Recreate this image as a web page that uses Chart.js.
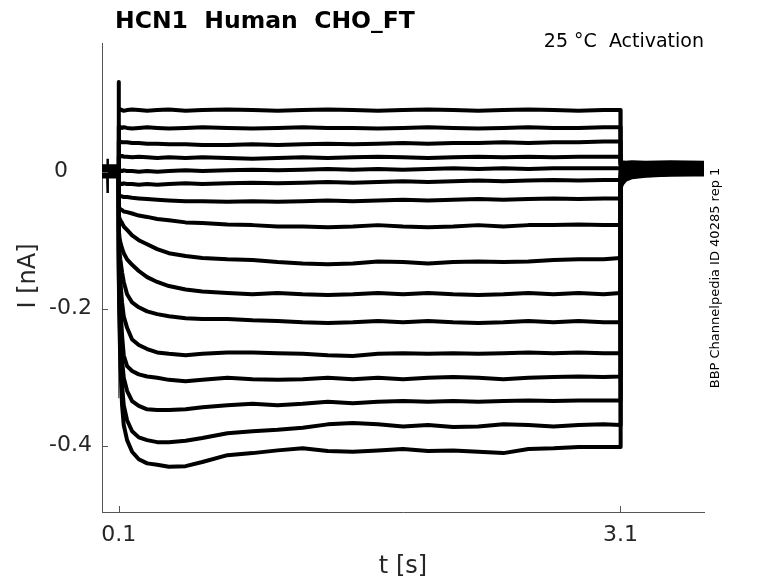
<!DOCTYPE html>
<html>
<head>
<meta charset="utf-8">
<script src="https://cdn.jsdelivr.net/npm/chart.js@4.4.1/dist/chart.umd.min.js"></script>
<style>
  html, body { margin: 0; padding: 0; background: #fff; }
  #wrap { width: 778px; height: 583px; position: relative; }
  canvas { display: block; }
</style>
</head>
<body>
<div id="wrap"><canvas id="c" width="778" height="583"></canvas></div>
<script>
// ---------- data (nA vs s) ----------
const titleText = 'HCN1  Human  CHO_FT';
const subtitleText = '25 °C  Activation';
const sideText = 'BBP Channelpedia ID 40285 rep 1';
const xTitle = 't [s]';
const yTitle = 'I [nA]';

const xTickValues = [0.1, 3.1];
const xTickLabels = ['0.1', '3.1'];
const yTickValues = [0, -0.2, -0.4];
const yTickLabels = ['0', '-0.2', '-0.4'];

// holding segment (before the step)
const preT = [0, 0.1];
const holdLevel = [0.008, 0.007, 0.006, 0.005, 0.004, 0.003, 0.002, 0.001,
                   0.000, -0.001, -0.002, -0.003, -0.004, -0.005, -0.006, -0.007];

// short artifact in the holding segment
const artifactT = [0.031, 0.033, 0.034, 0.035, 0.037];
const artifactV = [0.000, 0.019, -0.031, 0.002, 0.000];

// capacitive transient at step onset (deepest step)
const transientT = [0.0995, 0.1, 0.101];
const transientV = [-0.007, -0.331, -0.158];

// test step samples
const stepT = [0.100,0.101,0.105,0.110,0.120,0.130,0.150,0.180,0.220,0.270,
               0.330,0.400,0.500,0.600,0.750,0.900,1.050,1.200,1.350,1.500,
               1.650,1.800,1.950,2.100,2.250,2.400,2.550,2.700,2.850,3.000,3.100];

const trace01 = [0.131,0.089,0.090,0.091,0.090,0.089,0.090,0.091,0.090,0.089,0.090,0.091,0.089,0.090,0.091,0.090,0.089,0.090,0.091,0.090,0.089,0.090,0.091,0.090,0.089,0.090,0.091,0.090,0.089,0.090,0.090];
const trace02 = [0.066,0.066,0.066,0.065,0.064,0.065,0.064,0.063,0.064,0.065,0.064,0.063,0.064,0.065,0.064,0.063,0.064,0.065,0.064,0.064,0.063,0.064,0.065,0.064,0.063,0.064,0.065,0.064,0.064,0.065,0.065];
const trace03 = [0.044,0.044,0.044,0.044,0.043,0.043,0.043,0.042,0.042,0.041,0.041,0.040,0.040,0.039,0.039,0.040,0.039,0.040,0.041,0.040,0.041,0.042,0.041,0.042,0.042,0.043,0.042,0.043,0.043,0.044,0.044];
const trace04 = [0.023,0.023,0.023,0.022,0.023,0.022,0.022,0.021,0.022,0.021,0.020,0.021,0.020,0.021,0.020,0.019,0.020,0.021,0.020,0.021,0.022,0.021,0.020,0.021,0.022,0.021,0.022,0.021,0.022,0.022,0.022];
const trace05 = [0.002,0.002,0.002,0.002,0.001,0.002,0.001,0.001,0.000,0.001,0.000,0.001,0.002,0.001,0.002,0.003,0.002,0.003,0.004,0.003,0.004,0.003,0.004,0.005,0.004,0.005,0.004,0.005,0.005,0.005,0.005];
const trace06 = [-0.016,-0.016,-0.017,-0.017,-0.018,-0.017,-0.018,-0.018,-0.019,-0.018,-0.019,-0.018,-0.017,-0.018,-0.017,-0.016,-0.017,-0.016,-0.015,-0.016,-0.015,-0.014,-0.015,-0.014,-0.013,-0.014,-0.013,-0.012,-0.013,-0.012,-0.012];
const trace07 = [-0.035,-0.035,-0.035,-0.036,-0.036,-0.037,-0.037,-0.038,-0.039,-0.040,-0.041,-0.042,-0.043,-0.043,-0.044,-0.043,-0.044,-0.043,-0.042,-0.043,-0.042,-0.041,-0.042,-0.041,-0.040,-0.041,-0.040,-0.039,-0.040,-0.039,-0.039];
const trace08 = [-0.052,-0.052,-0.053,-0.055,-0.056,-0.058,-0.059,-0.061,-0.064,-0.066,-0.069,-0.071,-0.074,-0.075,-0.077,-0.078,-0.080,-0.080,-0.081,-0.080,-0.078,-0.080,-0.081,-0.080,-0.078,-0.080,-0.078,-0.078,-0.077,-0.078,-0.078];
const trace09 = [-0.065,-0.065,-0.068,-0.071,-0.075,-0.080,-0.085,-0.093,-0.100,-0.106,-0.113,-0.119,-0.123,-0.126,-0.128,-0.129,-0.132,-0.134,-0.135,-0.134,-0.131,-0.132,-0.134,-0.132,-0.131,-0.132,-0.131,-0.129,-0.128,-0.128,-0.126];
const trace10 = [-0.085,-0.085,-0.097,-0.103,-0.112,-0.119,-0.128,-0.136,-0.145,-0.154,-0.161,-0.167,-0.172,-0.175,-0.177,-0.179,-0.177,-0.179,-0.180,-0.179,-0.177,-0.179,-0.177,-0.179,-0.180,-0.179,-0.177,-0.179,-0.177,-0.179,-0.177];
const trace11 = [-0.100,-0.100,-0.118,-0.129,-0.147,-0.161,-0.179,-0.191,-0.198,-0.204,-0.208,-0.211,-0.214,-0.215,-0.215,-0.217,-0.218,-0.220,-0.221,-0.220,-0.218,-0.220,-0.218,-0.220,-0.221,-0.220,-0.218,-0.220,-0.218,-0.220,-0.220];
const trace12 = [-0.115,-0.115,-0.141,-0.161,-0.191,-0.211,-0.228,-0.245,-0.253,-0.259,-0.264,-0.266,-0.268,-0.266,-0.264,-0.264,-0.265,-0.266,-0.268,-0.269,-0.266,-0.265,-0.266,-0.265,-0.266,-0.265,-0.264,-0.265,-0.264,-0.265,-0.265];
const trace13 = [-0.126,-0.126,-0.166,-0.195,-0.239,-0.268,-0.284,-0.291,-0.296,-0.299,-0.301,-0.304,-0.306,-0.304,-0.301,-0.303,-0.304,-0.303,-0.301,-0.303,-0.301,-0.303,-0.301,-0.300,-0.301,-0.303,-0.301,-0.300,-0.299,-0.300,-0.299];
const trace14 = [-0.136,-0.136,-0.188,-0.224,-0.275,-0.301,-0.320,-0.335,-0.342,-0.347,-0.348,-0.348,-0.347,-0.344,-0.341,-0.339,-0.341,-0.339,-0.336,-0.338,-0.336,-0.335,-0.336,-0.335,-0.336,-0.335,-0.334,-0.335,-0.334,-0.334,-0.334];
const trace15 = [-0.147,-0.147,-0.209,-0.253,-0.312,-0.341,-0.363,-0.379,-0.388,-0.392,-0.395,-0.395,-0.393,-0.389,-0.382,-0.379,-0.377,-0.374,-0.369,-0.367,-0.369,-0.372,-0.370,-0.373,-0.372,-0.369,-0.370,-0.372,-0.370,-0.369,-0.370];
const trace16 = [-0.158,-0.158,-0.231,-0.282,-0.341,-0.370,-0.392,-0.409,-0.420,-0.426,-0.428,-0.431,-0.430,-0.424,-0.414,-0.411,-0.407,-0.404,-0.408,-0.409,-0.407,-0.405,-0.408,-0.407,-0.409,-0.411,-0.405,-0.404,-0.402,-0.402,-0.402];

// tail segment (after the step)
const postT = [3.100, 3.103, 3.110, 3.130, 3.170, 3.250, 3.400, 3.600];
const tail01 = [0.013,0.013,0.014,0.013,0.014,0.013,0.014,0.013];
const tail02 = [0.011,0.012,0.011,0.012,0.011,0.012,0.011,0.012];
const tail03 = [0.010,0.010,0.011,0.010,0.011,0.010,0.011,0.010];
const tail04 = [0.008,0.009,0.008,0.009,0.008,0.009,0.008,0.009];
const tail05 = [0.006,0.006,0.007,0.006,0.007,0.006,0.007,0.006];
const tail06 = [0.004,0.005,0.004,0.005,0.004,0.005,0.004,0.005];
const tail07 = [0.002,0.003,0.003,0.003,0.004,0.003,0.004,0.003];
const tail08 = [-0.004,-0.002,0.000,0.001,0.002,0.002,0.002,0.002];
const tail09 = [-0.008,-0.006,-0.003,-0.001,0.000,0.001,0.001,0.001];
const tail10 = [-0.012,-0.009,-0.006,-0.003,-0.001,0.000,0.000,0.000];
const tail11 = [-0.016,-0.012,-0.008,-0.004,-0.002,-0.001,-0.001,-0.001];
const tail12 = [-0.019,-0.015,-0.010,-0.006,-0.004,-0.002,-0.002,-0.002];
const tail13 = [-0.022,-0.017,-0.012,-0.008,-0.005,-0.003,-0.003,-0.002];
const tail14 = [-0.024,-0.019,-0.014,-0.009,-0.006,-0.004,-0.003,-0.003];
const tail15 = [-0.026,-0.021,-0.015,-0.010,-0.007,-0.005,-0.004,-0.003];
const tail16 = [-0.029,-0.024,-0.018,-0.012,-0.008,-0.006,-0.004,-0.004];

const steps = [trace01,trace02,trace03,trace04,trace05,trace06,trace07,trace08,
               trace09,trace10,trace11,trace12,trace13,trace14,trace15,trace16];
const tails = [tail01,tail02,tail03,tail04,tail05,tail06,tail07,tail08,
               tail09,tail10,tail11,tail12,tail13,tail14,tail15,tail16];

// ---------- build datasets ----------
const datasets = steps.map((s, i) => {
  const pts = [];
  preT.forEach(t => pts.push({x: t, y: holdLevel[i]}));
  stepT.forEach((t, j) => pts.push({x: t, y: s[j]}));
  postT.forEach((t, j) => pts.push({x: t, y: tails[i][j]}));
  return {
    data: pts, showLine: true, borderColor: '#000', borderWidth: 4,
    pointRadius: 0, tension: 0, fill: false, borderJoinStyle: 'round'
  };
});
datasets.push({
  data: artifactT.map((t, j) => ({x: t, y: artifactV[j]})),
  showLine: true, borderColor: '#000', borderWidth: 2.5, pointRadius: 0, tension: 0
});
datasets.push({
  data: transientT.map((t, j) => ({x: t, y: transientV[j]})),
  showLine: true, borderColor: '#444', borderWidth: 1.2, pointRadius: 0, tension: 0
});

const FONT = '"DejaVu Sans", "Liberation Sans", sans-serif';
const TXT = '#262626';

const decor = {
  id: 'decor',
  afterDraw(chart) {
    const ctx = chart.ctx;
    const xs = chart.scales.x, ys = chart.scales.y;
    const area = chart.chartArea;
    ctx.save();
    // inward tick marks
    ctx.strokeStyle = '#555';
    ctx.lineWidth = 1;
    xs.ticks.forEach(t => {
      const px = Math.round(xs.getPixelForValue(t.value)) + 0.5;
      ctx.beginPath(); ctx.moveTo(px, area.bottom); ctx.lineTo(px, area.bottom - 6); ctx.stroke();
    });
    ys.ticks.forEach(t => {
      const py = Math.round(ys.getPixelForValue(t.value)) + 0.5;
      ctx.beginPath(); ctx.moveTo(area.left, py); ctx.lineTo(area.left + 6, py); ctx.stroke();
    });
    // tick labels
    ctx.fillStyle = TXT;
    ctx.font = '22px ' + FONT;
    ctx.textBaseline = 'middle';
    ctx.textAlign = 'center';
    xs.ticks.forEach(t => {
      const k = xTickValues.indexOf(t.value);
      ctx.fillText(xTickLabels[k], xs.getPixelForValue(t.value), 535);
    });
    ctx.textAlign = 'right';
    ys.ticks.forEach(t => {
      const k = yTickValues.indexOf(t.value);
      const lbl = yTickLabels[k];
      const edge = lbl.length === 1 ? 68 : 92;
      ctx.fillText(lbl, edge, ys.getPixelForValue(t.value));
    });
    // axis titles
    ctx.font = '24px ' + FONT;
    ctx.textAlign = 'center';
    ctx.fillText(xTitle, 403, 567);
    ctx.save();
    ctx.translate(29, 276);
    ctx.rotate(-Math.PI / 2);
    ctx.fillText(yTitle, 0, 0);
    ctx.restore();
    // title
    ctx.textBaseline = 'alphabetic';
    ctx.textAlign = 'left';
    ctx.fillStyle = '#000';
    ctx.font = 'bold 23.5px ' + FONT;
    ctx.fillText(titleText, 115, 28);
    // subtitle
    ctx.font = '19px ' + FONT;
    ctx.textAlign = 'right';
    ctx.fillText(subtitleText, 704, 47);
    // side text
    ctx.font = '13px ' + FONT;
    ctx.textAlign = 'center';
    ctx.textBaseline = 'middle';
    ctx.save();
    ctx.translate(716, 278);
    ctx.rotate(-Math.PI / 2);
    ctx.fillText(sideText, 0, 0);
    ctx.restore();
    ctx.restore();
  }
};

new Chart(document.getElementById('c'), {
  type: 'scatter',
  data: { datasets },
  options: {
    responsive: false,
    animation: false,
    devicePixelRatio: 1,
    layout: { padding: { left: 0, right: 74, top: 43, bottom: 0 } },
    plugins: { legend: { display: false }, tooltip: { enabled: false }, title: { display: false } },
    scales: {
      x: {
        type: 'linear', min: 0, max: 3.6,
        grid: { display: false, drawTicks: false },
        border: { display: true, color: '#555', width: 1 },
        ticks: { display: false },
        afterBuildTicks: s => { s.ticks = xTickValues.map(v => ({value: v})); },
        afterFit: s => { s.height = 71; }
      },
      y: {
        type: 'linear', min: -0.497, max: 0.188,
        grid: { display: false, drawTicks: false },
        border: { display: true, color: '#555', width: 1 },
        ticks: { display: false },
        afterBuildTicks: s => { s.ticks = yTickValues.map(v => ({value: v})); },
        afterFit: s => { s.width = 102; }
      }
    }
  },
  plugins: [decor]
});
</script>
</body>
</html>
